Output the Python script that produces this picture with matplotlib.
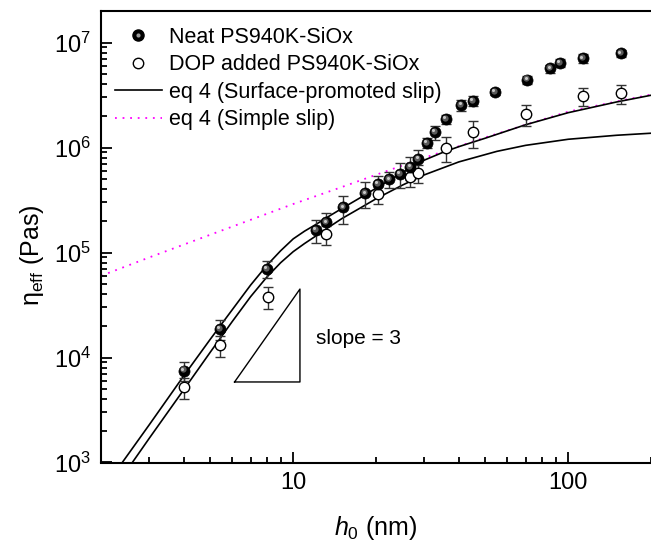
import matplotlib
matplotlib.use('Agg')
import numpy as np
import matplotlib.pyplot as plt
import matplotlib.transforms as mtransforms
from matplotlib.lines import Line2D
from matplotlib.ticker import FuncFormatter, NullFormatter, LogLocator

plt.rcParams['font.family'] = ['Liberation Sans', 'DejaVu Sans']
plt.rcParams['mathtext.fontset'] = 'custom'
plt.rcParams['mathtext.rm'] = 'Liberation Sans'
plt.rcParams['mathtext.it'] = 'Liberation Sans:italic'

# neat PS940K-SiOx (filled spheres)
h_neat = [4.0, 5.4, 8.0, 12.1, 13.2, 15.2, 18.3, 20.3, 22.3, 24.4, 26.6, 28.5,
          30.6, 32.7, 35.8, 40.8, 45.0, 54.0, 71.0, 86.0, 93.0, 113.0, 155.0]
eta_neat = [7.5e3, 1.86e4, 7.0e4, 1.64e5, 1.94e5, 2.69e5, 3.66e5, 4.49e5, 4.98e5, 5.6e5,
            6.5e5, 7.76e5, 1.11e6, 1.40e6, 1.87e6, 2.54e6, 2.79e6, 3.4e6, 4.45e6,
            5.67e6, 6.43e6, 7.08e6, 7.9e6]
err_neat = [1.5e3, 4e3, 1.3e4, 4e4, 4.5e4, 8e4, 1e5, 9e4, 9e4, 1.5e5, 1.6e5, 1.8e5,
            1.3e5, 2.2e5, 1.8e5, 3e5, 3e5, 2e5, 4e5, 5e5, 6e5, 7e5, 6e5]

# DOP added PS940K-SiOx (open circles)
h_dop = [4.0, 5.4, 8.1, 13.2, 20.3, 26.6, 28.5, 35.8, 45.0, 70.0, 113.0, 155.0]
eta_dop = [5.2e3, 1.31e4, 3.8e4, 1.49e5, 3.58e5, 5.2e5, 5.67e5, 1.0e6, 1.4e6, 2.08e6, 3.09e6, 3.28e6]
err_dop = [1.2e3, 3e3, 9e3, 3e4, 7e4, 1e5, 1.1e5, 2.7e5, 4e5, 4.8e5, 6e5, 7e5]

# eq 4 curves
h_fit = [2.39, 3, 4, 5, 6, 7, 8, 9, 10, 11, 12, 13.5, 15, 17.5, 20, 25, 30, 35, 40, 50,
         70, 100, 150, 200]
eta_fit_neat = [1e3, 2.3e3, 6.7e3, 1.5e4, 2.85e4, 4.9e4, 7.5e4, 1.04e5, 1.35e5, 1.6e5,
                1.83e5, 2.22e5, 2.62e5, 3.32e5, 4.1e5, 5.8e5, 7.6e5, 9.0e5, 1.02e6,
                1.23e6, 1.65e6, 2.15e6, 2.72e6, 3.15e6]
h_fit2 = [2.6, 3, 4, 5, 6, 7, 8, 9, 10, 11, 12, 13.5, 15, 17.5, 20, 25, 30, 40, 55,
          70, 100, 150, 200]
eta_fit_dop = [1e3, 1.71e3, 4.94e3, 1.13e4, 2.2e4, 3.8e4, 5.8e4, 8.0e4, 1.02e5, 1.22e5,
               1.42e5, 1.75e5, 2.1e5, 2.65e5, 3.25e5, 4.4e5, 5.5e5, 7.3e5, 9.2e5,
               1.05e6, 1.2e6, 1.31e6, 1.37e6]
h_simple = [2, 3, 5, 7, 10, 15, 20, 30, 50, 70, 100, 150, 200]
eta_simple = [6.0e4, 9.0e4, 1.48e5, 2.05e5, 2.9e5, 4.2e5, 5.5e5, 8.0e5, 1.25e6, 1.65e6,
              2.2e6, 2.75e6, 3.2e6]

# slope triangle
tri_h = [6.12, 10.58, 10.58, 6.12]
tri_eta = [5.85e3, 5.85e3, 4.49e4, 5.85e3]

fig = plt.figure(figsize=(6.51, 5.48), dpi=100)
ax = fig.add_axes([101 / 651, 85.5 / 548, 550 / 651, 451.5 / 548])
ax.set_xscale('log')
ax.set_yscale('log')
ax.set_xlim(2, 200)
ax.set_ylim(1e3, 2e7)

ax.plot(h_simple, eta_simple, ls=(0, (1, 3.2)), color='#ff00ff', lw=1.3, zorder=1)
ax.plot(h_fit, eta_fit_neat, color='black', lw=1.2, zorder=1)
ax.plot(h_fit2, eta_fit_dop, color='black', lw=1.2, zorder=1)
ax.plot(tri_h, tri_eta, color='black', lw=1.0)
ax.text(12.1, 1.53e4, 'slope = 3', fontsize=15, va='center', ha='left')

ax.errorbar(h_neat, eta_neat, yerr=err_neat, fmt='none', ecolor='#333333',
            elinewidth=1, capsize=3.5, capthick=1, zorder=2)
ax.errorbar(h_dop, eta_dop, yerr=err_dop, fmt='none', ecolor='#333333',
            elinewidth=1, capsize=3.5, capthick=1, zorder=2)

ax.plot(h_dop, eta_dop, 'o', ms=7.5, mfc='white', mec='black', mew=1.0, zorder=3)
ax.plot(h_neat, eta_neat, 'o', ms=8, mfc='black', mec='black', mew=0.5, zorder=3)
# highlight for the sphere look
hl1 = mtransforms.offset_copy(ax.transData, fig=fig, x=-1.0, y=1.2, units='dots')
hl2 = mtransforms.offset_copy(ax.transData, fig=fig, x=-1.5, y=1.8, units='dots')
ax.plot(h_neat, eta_neat, 'o', ms=4.5, mfc='#5a5a5a', mec='none', transform=hl1, zorder=4)
ax.plot(h_neat, eta_neat, 'o', ms=2.2, mfc='#c8c8c8', mec='none', transform=hl2, zorder=5)

for s in ['left', 'bottom', 'top']:
    ax.spines[s].set_linewidth(1.5)
ax.spines['right'].set_visible(False)

ax.xaxis.set_major_formatter(FuncFormatter(lambda v, p: '%g' % v))
ax.xaxis.set_minor_formatter(NullFormatter())
ax.yaxis.set_minor_locator(LogLocator(base=10, subs=np.arange(2, 10)))
ax.yaxis.set_minor_formatter(NullFormatter())
ax.tick_params(which='both', direction='in', top=False, right=False, width=1.3, labelsize=17)
ax.tick_params(which='major', length=8, pad=7)
ax.tick_params(which='minor', length=4.5)

ax.set_xlabel('$h_{\\rm 0}$ (nm)', fontsize=18, labelpad=14)
ax.set_ylabel('$\\mathregular{η_{eff}}$ (Pas)', fontsize=18)
ax.yaxis.set_label_coords(-0.1, 0.46)

sphere = (Line2D([], [], ls='none', marker='o', ms=8, mfc='black', mec='black'),
          Line2D([], [], ls='none', marker='o', ms=3, mfc='#9a9a9a', mec='none'))
opencirc = Line2D([], [], ls='none', marker='o', ms=7.5, mfc='white', mec='black', mew=1.0)
solid = Line2D([], [], color='black', lw=1.2)
dotted = Line2D([], [], color='#ff00ff', lw=1.3, ls=(0, (1, 3.2)))
ax.legend([sphere, opencirc, solid, dotted],
          ['Neat PS940K-SiOx', 'DOP added PS940K-SiOx',
           'eq 4 (Surface-promoted slip)', 'eq 4 (Simple slip)'],
          loc='upper left', bbox_to_anchor=(0.025, 0.965), frameon=False,
          fontsize=15.5, handlelength=2.2, handletextpad=0.3, labelspacing=0.3,
          borderpad=0, borderaxespad=0)

fig.savefig('out.png', dpi=100)
